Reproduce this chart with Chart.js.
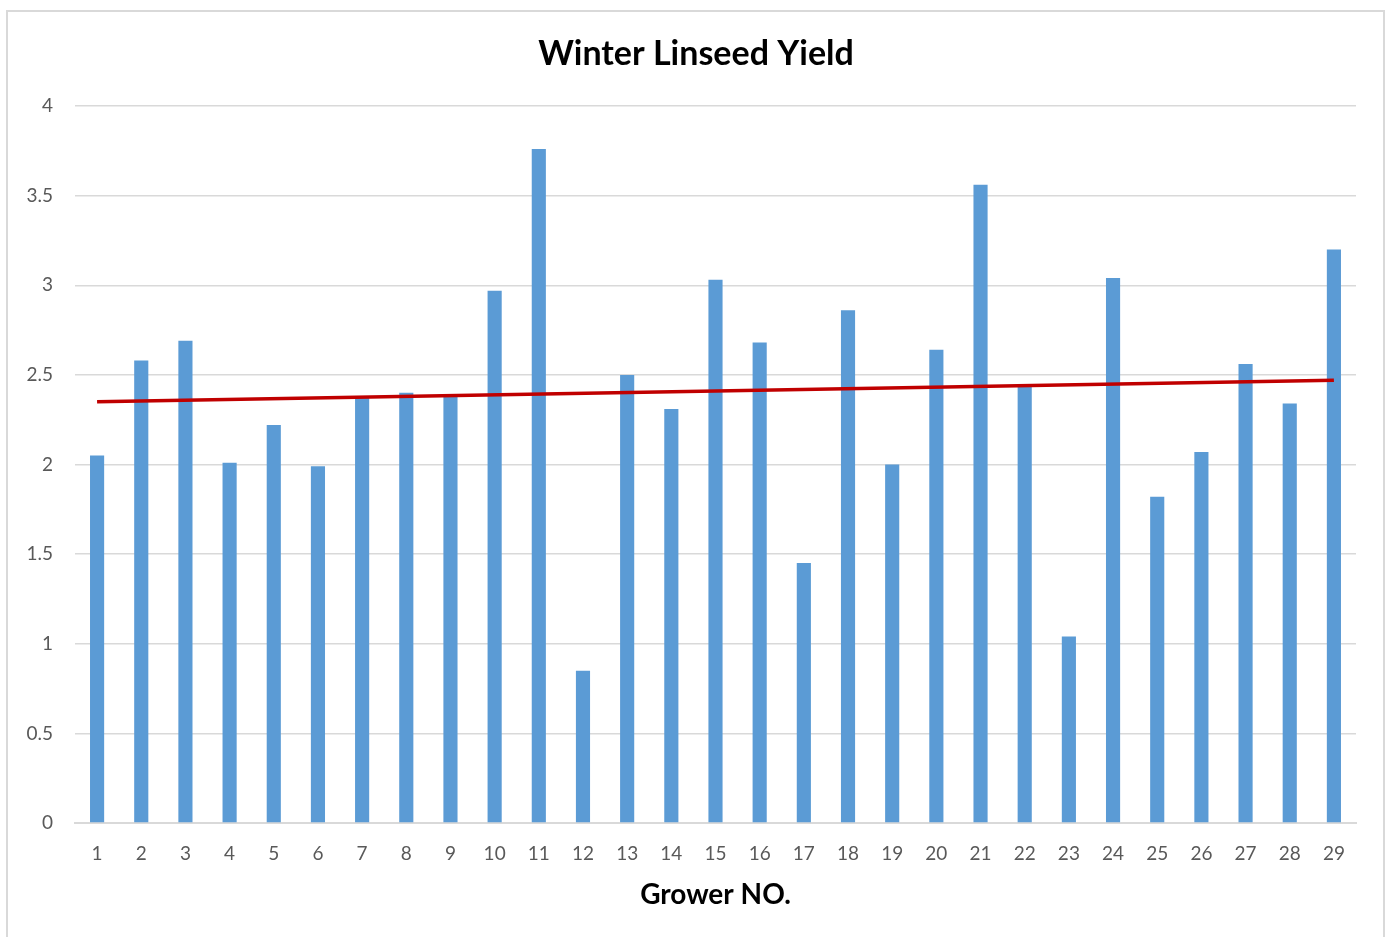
<!DOCTYPE html>
<html>
<head>
<meta charset="utf-8">
<script src="https://cdn.jsdelivr.net/npm/chart.js@4"></script>
<style>
html,body{margin:0;padding:0;background:#fff;}
#wrap{position:relative;width:1387px;height:937px;}
</style>
</head>
<body>
<div id="wrap"><canvas id="c" width="1387" height="937"></canvas></div>
<script>
const growers = ['1','2','3','4','5','6','7','8','9','10','11','12','13','14','15','16','17','18','19','20','21','22','23','24','25','26','27','28','29'];
const yieldValues = [2.05,2.58,2.69,2.01,2.22,1.99,2.38,2.40,2.39,2.97,3.76,0.85,2.50,2.31,3.03,2.68,1.45,2.86,2.00,2.64,3.56,2.44,1.04,3.04,1.82,2.07,2.56,2.34,3.20];
// linear trendline endpoints
const trendValues = [2.35,null,null,null,null,null,null,null,null,null,null,null,null,null,null,null,null,null,null,null,null,null,null,null,null,null,null,null,2.47];
const yTicks = [0,0.5,1,1.5,2,2.5,3,3.5,4];

const frame = {
  id:'frame',
  afterLayout(chart){
    // center the chart title over the outer frame
    if (chart.titleBlock) { chart.titleBlock.left = 36; chart.titleBlock.right = 1356; }
  },
  beforeDraw(chart){
    const ctx = chart.ctx;
    ctx.save();
    ctx.fillStyle='#fff';
    ctx.fillRect(0,0,chart.width,chart.height);
    ctx.strokeStyle='#d9d9d9';
    ctx.lineWidth=2;
    ctx.strokeRect(7,11,1377,940);
    ctx.restore();
  }
};

new Chart(document.getElementById('c'), {
  data: {
    labels: growers,
    datasets: [
      {type:'line', data: trendValues, spanGaps:true, borderColor:'#C00000', borderWidth:3.5, pointRadius:0, order:0, tension:0},
      {type:'bar', data: yieldValues, backgroundColor:'#5B9BD5', categoryPercentage:1.0, barPercentage:0.32, order:1}
    ]
  },
  options: {
    responsive:false,
    animation:false,
    layout:{padding:{left:0,right:31,top:0,bottom:0}},
    plugins:{
      legend:{display:false},
      tooltip:{enabled:false},
      title:{display:true, text:'Winter Linseed Yield', color:'#000', font:{family:'Lato', size:34, weight:'bold'}, padding:{top:34,bottom:31.2}}
    },
    scales:{
      x:{
        afterFit(scale){ scale.height = 114; },
        grid:{display:false, drawTicks:false},
        border:{display:true, color:'#d9d9d9', width:2},
        ticks:{color:'#595959', font:{family:'Lato', size:19}, padding:19, maxRotation:0, autoSkip:false},
        title:{display:true, text:'Grower NO.', color:'#000', font:{family:'Lato', size:28, weight:'bold'}, padding:{top:4,bottom:25}}
      },
      y:{
        min:0, max:4,
        afterFit(scale){ scale.width = 75; },
        afterBuildTicks(scale){ scale.ticks = yTicks.map(v=>({value:v})); },
        grid:{color:'#d9d9d9', lineWidth:1.5, drawTicks:false},
        border:{display:false},
        ticks:{color:'#595959', font:{family:'Lato', size:19}, padding:22, callback:(v)=>String(v)}
      }
    }
  },
  plugins:[frame]
});
</script>
</body>
</html>
